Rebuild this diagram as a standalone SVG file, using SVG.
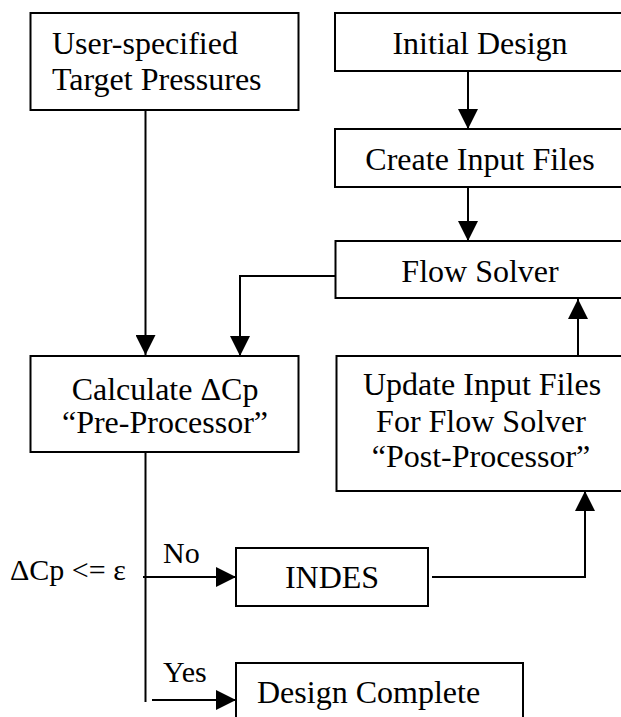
<svg xmlns="http://www.w3.org/2000/svg" width="621" height="717" viewBox="0 0 621 717">
<defs>
<marker id="ah" viewBox="0 0 20 20" refX="20" refY="10" markerWidth="20" markerHeight="20" markerUnits="userSpaceOnUse" orient="auto">
<path d="M0,0 L20,10 L0,20 Z" fill="#000"/>
</marker>
</defs>
<rect width="621" height="717" fill="#fff"/>
<g id="connectors" fill="none" stroke="#000" stroke-width="2">
<path d="M145.5,110 V355" marker-end="url(#ah)"/>
<path d="M468,71 V129" marker-end="url(#ah)"/>
<path d="M468,187 V241" marker-end="url(#ah)"/>
<path d="M336,276 H240 V356" marker-end="url(#ah)"/>
<path d="M578,356 V299" marker-end="url(#ah)"/>
<path d="M145.5,452 V702"/>
<path d="M143,577 H236" marker-end="url(#ah)"/>
<path d="M432,577 H585 V491" marker-end="url(#ah)"/>
<path d="M152,700 H236" marker-end="url(#ah)"/>
</g>
<g id="user-targets">
<rect x="30.5" y="13" width="268" height="97" fill="#fff" stroke="#000" stroke-width="2"/>
<text x="52" y="54" font-size="32" font-family="Liberation Serif">User-specified</text>
<text x="52" y="90" font-size="32" font-family="Liberation Serif">Target Pressures</text>
</g>
<g id="initial-design">
<rect x="335" y="13" width="300" height="58" fill="#fff" stroke="#000" stroke-width="2"/>
<text x="480" y="54" font-size="32" font-family="Liberation Serif" text-anchor="middle">Initial Design</text>
</g>
<g id="create-input">
<rect x="335" y="129" width="300" height="58" fill="#fff" stroke="#000" stroke-width="2"/>
<text x="480" y="170" font-size="32" font-family="Liberation Serif" text-anchor="middle">Create Input Files</text>
</g>
<g id="flow-solver">
<rect x="335.5" y="241" width="300" height="57" fill="#fff" stroke="#000" stroke-width="2"/>
<text x="480" y="282" font-size="32" font-family="Liberation Serif" text-anchor="middle">Flow Solver</text>
</g>
<g id="calculate">
<rect x="30.5" y="356" width="268" height="96" fill="#fff" stroke="#000" stroke-width="2"/>
<text x="165" y="400" font-size="32" font-family="Liberation Serif" text-anchor="middle">Calculate &#916;Cp</text>
<text x="165" y="433" font-size="32" font-family="Liberation Serif" text-anchor="middle">&#8220;Pre-Processor&#8221;</text>
</g>
<g id="update">
<rect x="336.5" y="356" width="300" height="135" fill="#fff" stroke="#000" stroke-width="2"/>
<text x="482" y="395" font-size="32" font-family="Liberation Serif" text-anchor="middle">Update Input Files</text>
<text x="481" y="432" font-size="32" font-family="Liberation Serif" text-anchor="middle">For Flow Solver</text>
<text x="481" y="467" font-size="32" font-family="Liberation Serif" text-anchor="middle">&#8220;Post-Processor&#8221;</text>
</g>
<g id="condition">
<text x="10" y="580" font-size="30" font-family="Liberation Serif">&#916;Cp &lt;= &#949;</text>
<text x="163" y="563" font-size="30" font-family="Liberation Serif">No</text>
<text x="163" y="682" font-size="30" font-family="Liberation Serif">Yes</text>
</g>
<g id="indes">
<rect x="236" y="548" width="192" height="58" fill="#fff" stroke="#000" stroke-width="2"/>
<text x="332" y="588" font-size="32" font-family="Liberation Serif" text-anchor="middle">INDES</text>
</g>
<g id="design-complete">
<rect x="236" y="663" width="287" height="80" fill="#fff" stroke="#000" stroke-width="2"/>
<text x="257" y="703" font-size="32" font-family="Liberation Serif">Design Complete</text>
</g>
</svg>
